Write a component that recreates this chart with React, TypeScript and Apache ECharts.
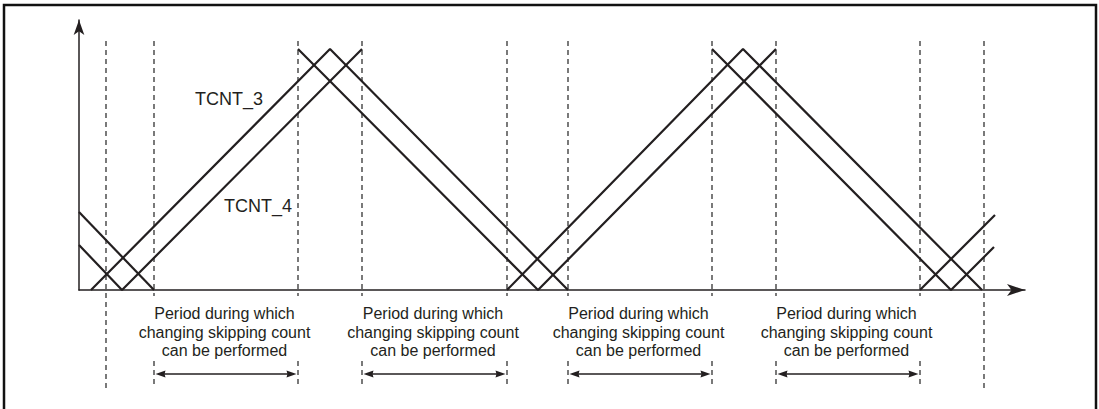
import React, { useEffect, useRef } from "react";
import * as echarts from "echarts";

// Counter waveforms (x = time, y = count), each list is one continuous polyline
const tcnt3Segments: number[][][] = [
  [[0, 78], [75, 0]],
  [[12, 0], [251, 241], [489, 0]],
  [[428, 0], [664, 241], [903, 0]],
  [[841, 0], [916, 75]],
];
const tcnt4Segments: number[][][] = [
  [[0, 45], [43, 0], [283, 241]],
  [[219, 241], [459, 0], [697, 241]],
  [[633, 241], [872, 0], [915, 43]],
];

// Vertical dashed marker times; 1 = broken where text sits, 0 = continuous
const dashedTimes = [27, 75, 219, 283, 428, 489, 633, 697, 841, 905];
const dashedBroken = [0, 1, 1, 1, 1, 1, 1, 1, 1, 0];

// Periods during which changing skipping count can be performed
const periodStarts = [75, 283, 489, 697];
const periodEnds = [219, 428, 633, 841];
const periodText = "Period during which\nchanging skipping count\ncan be performed";

const seriesLabels = ["TCNT_3", "TCNT_4"];
const seriesLabelAnchors = [[116, 191.5], [145, 84.5]];

const X_MAX = 946;
const Y_MAX = 270;
const DASH_TOP = 249;
const DASH_BOTTOM = -98;
const GAP_TOP = -6;
const GAP_BOTTOM = -71;
const ARROW_Y = -84;
const TEXT_Y = -42;
const INK = "#231f20";
const FONT = '"Liberation Sans", Arial, sans-serif';

export default function App() {
  const ref = useRef<HTMLDivElement>(null);
  useEffect(() => {
    if (!ref.current) return;
    const chart = echarts.init(ref.current, null, { renderer: "svg" });

    const waveSeries: any[] = [];
    tcnt3Segments.forEach((seg) =>
      waveSeries.push({
        name: "TCNT_3",
        type: "line",
        data: seg,
        symbol: "none",
        lineStyle: { color: INK, width: 2.2 },
        silent: true,
        z: 3,
      })
    );
    tcnt4Segments.forEach((seg) =>
      waveSeries.push({
        name: "TCNT_4",
        type: "line",
        data: seg,
        symbol: "none",
        lineStyle: { color: INK, width: 2.2 },
        silent: true,
        z: 3,
      })
    );

    const dashStyle = { stroke: "#333", lineWidth: 1.3, lineDash: [5, 4] };

    const option: any = {
      animation: false,
      backgroundColor: "#fff",
      grid: { left: 79, top: 290 - Y_MAX, width: X_MAX, height: Y_MAX },
      xAxis: {
        type: "value",
        min: 0,
        max: X_MAX,
        axisLine: {
          show: true,
          onZero: false,
          symbol: ["none", "arrow"],
          symbolSize: [9, 18],
          lineStyle: { color: INK, width: 1.5 },
        },
        axisTick: { show: false },
        axisLabel: { show: false },
        splitLine: { show: false },
      },
      yAxis: {
        type: "value",
        min: 0,
        max: Y_MAX,
        axisLine: {
          show: true,
          onZero: false,
          symbol: ["none", "arrow"],
          symbolSize: [8, 15],
          lineStyle: { color: INK, width: 1.5 },
        },
        axisTick: { show: false },
        axisLabel: { show: false },
        splitLine: { show: false },
      },
      graphic: [
        {
          type: "polyline",
          shape: { points: [[4, 409], [4, 5], [1096, 5], [1096, 409]] },
          style: { stroke: "#111", lineWidth: 2.5, fill: "none" },
          silent: true,
        },
      ],
      series: [
        ...waveSeries,
        {
          type: "custom",
          name: "markers",
          data: dashedTimes.map((t, i) => [t, dashedBroken[i]]),
          silent: true,
          z: 2,
          renderItem: (params: any, api: any) => {
            const t = api.value(0);
            const broken = api.value(1);
            const top = api.coord([t, DASH_TOP]);
            const bot = api.coord([t, DASH_BOTTOM]);
            if (!broken) {
              return {
                type: "line",
                shape: { x1: top[0], y1: top[1], x2: bot[0], y2: bot[1] },
                style: dashStyle,
              };
            }
            const g1 = api.coord([t, GAP_TOP]);
            const g2 = api.coord([t, GAP_BOTTOM]);
            return {
              type: "group",
              children: [
                {
                  type: "line",
                  shape: { x1: top[0], y1: top[1], x2: g1[0], y2: g1[1] },
                  style: dashStyle,
                },
                {
                  type: "line",
                  shape: { x1: g2[0], y1: g2[1], x2: bot[0], y2: bot[1] },
                  style: dashStyle,
                },
              ],
            };
          },
        },
        {
          type: "custom",
          name: "periods",
          data: periodStarts.map((s, i) => [s, periodEnds[i]]),
          silent: true,
          z: 2,
          renderItem: (params: any, api: any) => {
            const s = api.value(0);
            const e = api.value(1);
            const a = api.coord([s, ARROW_Y]);
            const b = api.coord([e, ARROW_Y]);
            const ax = a[0] + 1.5;
            const bx = b[0] - 1.5;
            const y = a[1];
            const hl = 10;
            const hw = 3.5;
            const mid = api.coord([(s + e) / 2, TEXT_Y]);
            return {
              type: "group",
              children: [
                {
                  type: "line",
                  shape: { x1: ax + 4, y1: y, x2: bx - 4, y2: y },
                  style: { stroke: INK, lineWidth: 1.6 },
                },
                {
                  type: "polygon",
                  shape: { points: [[ax, y], [ax + hl, y - hw], [ax + hl - 1, y], [ax + hl, y + hw]] },
                  style: { fill: INK },
                },
                {
                  type: "polygon",
                  shape: { points: [[bx, y], [bx - hl, y - hw], [bx - hl + 1, y], [bx - hl, y + hw]] },
                  style: { fill: INK },
                },
                {
                  type: "text",
                  style: {
                    text: periodText,
                    x: mid[0] - 1.5,
                    y: mid[1],
                    align: "center",
                    verticalAlign: "middle",
                    font: `16px ${FONT}`,
                    lineHeight: 18.5,
                    fill: INK,
                  },
                },
              ],
            };
          },
        },
        {
          type: "custom",
          name: "labels",
          data: seriesLabelAnchors.map((p, i) => [p[0], p[1], i]),
          silent: true,
          z: 4,
          renderItem: (params: any, api: any) => {
            const p = api.coord([api.value(0), api.value(1)]);
            return {
              type: "text",
              style: {
                text: seriesLabels[api.value(2)],
                x: p[0],
                y: p[1],
                align: "left",
                verticalAlign: "middle",
                font: `18px ${FONT}`,
                fill: INK,
              },
            };
          },
        },
      ],
    };
    chart.setOption(option);
    return () => chart.dispose();
  }, []);

  return (
    <div
      ref={ref}
      style={{ position: "absolute", left: 0, top: 0, width: 1099, height: 409 }}
    />
  );
}
